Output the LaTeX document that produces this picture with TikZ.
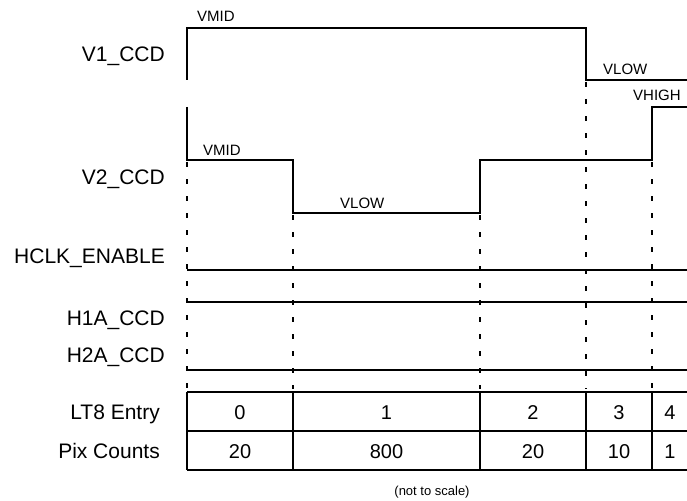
\documentclass[tikz,border=0pt]{standalone}
\usepackage{fontspec}
\setmainfont{Liberation Sans}
\usetikzlibrary{positioning}

\begin{document}
\begin{tikzpicture}[x=1pt, y=-1pt,
    sig/.style={line width=1.5pt, line join=miter},
    guide/.style={line width=1.6pt, dash pattern=on 5pt off 12pt},
    grid/.style={line width=1.5pt},
    signame/.style={anchor=base east, inner sep=0pt, font=\fontsize{21}{25}\selectfont},
    level/.style={anchor=base west, inner sep=0pt, font=\fontsize{15}{17}\selectfont},
    cellnum/.style={anchor=base, inner sep=0pt, font=\fontsize{20}{24}\selectfont}]
\useasboundingbox (0,0) rectangle (687,500);
% Timing of the LT8 entries

% signal names
\node[signame] (v1name) at (165,62) {V1\_CCD};
\node[signame] (v2name) at (165,184) {V2\_CCD};
\node[signame] (hclkname) at (165,263) {HCLK\_ENABLE};
\node[signame] (h1aname) at (165,325) {H1A\_CCD};
\node[signame] (h2aname) at (165,362) {H2A\_CCD};
\node[signame] (entryname) at (160,419) {LT8 Entry};
\node[signame] (countname) at (160,458) {Pix Counts};

% V1_CCD
\draw[sig] (187,80) -- (187,28) -- (586,28) -- (586,80) -- (687,80);
\node[level] (v1mid) at (197,22) {VMID};
\node[level] (v1low) at (603,75) {VLOW};

% V2_CCD
\draw[sig] (187,107) -- (187,160) -- (293,160) -- (293,213) -- (480,213)
    -- (480,160) -- (652,160) -- (652,107) -- (687,107);
\node[level] (v2mid) at (203,155) {VMID};
\node[level] (v2low) at (340,208) {VLOW};
\node[level] (v2high) at (633,101) {VHIGH};

% HCLK_ENABLE, H1A_CCD, H2A_CCD
\draw[sig] (187,270) -- (687,270);
\draw[sig] (187,302) -- (687,302);
\draw[sig] (187,370) -- (687,370);

% entry boundaries
\draw[guide] (187,162) -- (187,389);
\draw[guide] (293,215) -- (293,389);
\draw[guide] (480,215) -- (480,389);
\draw[guide] (586,82) -- (586,389);
\draw[guide] (652,162) -- (652,389);

% table
\draw[grid] (187,392) -- (687,392);
\draw[grid] (187,431) -- (687,431);
\draw[grid] (187,470) -- (687,470);
\foreach \x in {187,293,480,586,652}
  \draw[grid] (\x,392) -- (\x,470);

\node[cellnum] (n0) at (240,419) {0};
\node[cellnum] (n1) at (386.5,419) {1};
\node[cellnum] (n2) at (533,419) {2};
\node[cellnum] (n3) at (619,419) {3};
\node[cellnum] (n4) at (670,419) {4};
\node[cellnum] (c0) at (240,458) {20};
\node[cellnum] (c1) at (386.5,458) {800};
\node[cellnum] (c2) at (533,458) {20};
\node[cellnum] (c3) at (619,458) {10};
\node[cellnum] (c4) at (670,458) {1};

\node[anchor=base, inner sep=0pt, font=\fontsize{13}{15}\selectfont] (note) at (432,495) {(not to scale)};
\end{tikzpicture}
\end{document}
